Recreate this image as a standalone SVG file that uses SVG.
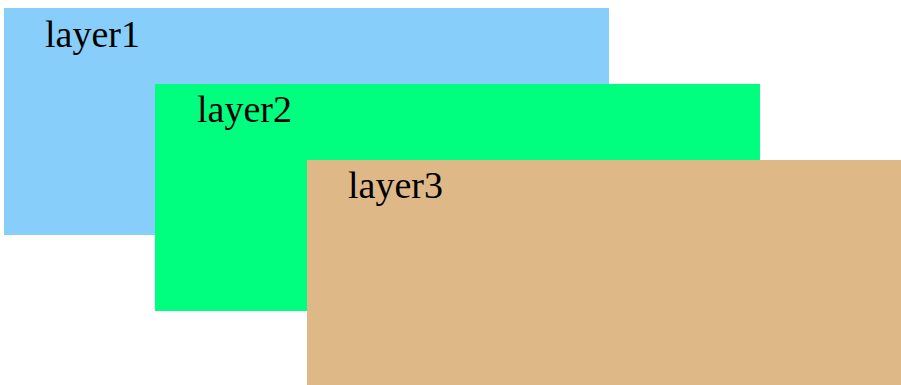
<svg xmlns="http://www.w3.org/2000/svg" width="901" height="385" viewBox="0 0 901 385">
<style>
text { font-family: "Liberation Serif", "Times New Roman", serif; font-size: 38px; fill: #000; }
</style>
<rect width="901" height="385" fill="#ffffff"/>
<g id="layer1">
<rect x="4" y="8" width="605" height="227" fill="#87CEFA"/>
<text x="45" y="47">layer1</text>
</g>
<g id="layer2">
<rect x="155" y="84" width="605" height="227" fill="#00FF7F"/>
<text x="197" y="122">layer2</text>
</g>
<g id="layer3">
<rect x="307" y="160" width="605" height="227" fill="#DEB887"/>
<text x="348" y="198">layer3</text>
</g>
</svg>
